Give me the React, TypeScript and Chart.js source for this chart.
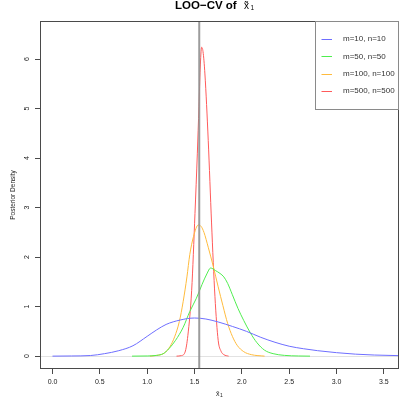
import React, { useEffect, useRef } from "react";
import { Chart, registerables } from "chart.js";

Chart.register(...registerables);

// ---- data ----
const xTicks = [0, 0.5, 1, 1.5, 2, 2.5, 3, 3.5];
const xTickLabels = ["0.0", "0.5", "1.0", "1.5", "2.0", "2.5", "3.0", "3.5"];
const yTicks = [0, 1, 2, 3, 4, 5, 6];
const yTickLabels = ["0", "1", "2", "3", "4", "5", "6"];
const seriesLabels = ["m=10, n=10", "m=50, n=50", "m=100, n=100", "m=500, n=500"];
const refValue = 1.55;

const m10X = [0.0, 0.2, 0.4, 0.55, 0.7, 0.85, 1.0, 1.1, 1.2, 1.35, 1.5, 1.62, 1.75, 1.9, 2.05, 2.2, 2.35, 2.5, 2.65, 2.8, 3.0, 3.2, 3.4, 3.66];
const m10Y = [0.0, 0.003, 0.012, 0.05, 0.11, 0.21, 0.4, 0.53, 0.64, 0.73, 0.77, 0.75, 0.69, 0.6, 0.5, 0.38, 0.28, 0.2, 0.15, 0.11, 0.07, 0.04, 0.022, 0.01];

const m50X = [0.84, 1.0, 1.1, 1.17, 1.23, 1.3, 1.38, 1.45, 1.52, 1.58, 1.63, 1.67, 1.72, 1.77, 1.81, 1.85, 1.9, 1.96, 2.02, 2.09, 2.16, 2.24, 2.33, 2.45, 2.6, 2.72];
const m50Y = [0.0, 0.003, 0.015, 0.05, 0.15, 0.32, 0.58, 0.9, 1.17, 1.45, 1.66, 1.78, 1.73, 1.67, 1.6, 1.47, 1.24, 0.96, 0.72, 0.47, 0.27, 0.12, 0.05, 0.015, 0.003, 0.0];

const m100X = [1.03, 1.12, 1.18, 1.24, 1.29, 1.34, 1.38, 1.42, 1.45, 1.49, 1.54, 1.57, 1.6, 1.645, 1.7, 1.75, 1.8, 1.85, 1.9, 1.95, 2.02, 2.1, 2.24];
const m100Y = [0.0, 0.02, 0.06, 0.19, 0.39, 0.7, 1.1, 1.6, 2.05, 2.42, 2.65, 2.62, 2.5, 2.2, 1.8, 1.4, 1.02, 0.66, 0.4, 0.22, 0.09, 0.03, 0.0];

const m500X = [1.31, 1.36, 1.4, 1.43, 1.47, 1.505, 1.53, 1.547, 1.56, 1.575, 1.59, 1.61, 1.645, 1.68, 1.716, 1.75, 1.78, 1.81, 1.86];
const m500Y = [0.0, 0.01, 0.08, 0.42, 1.33, 2.88, 4.1, 5.04, 5.8, 6.24, 6.15, 5.7, 4.36, 2.69, 1.2, 0.32, 0.1, 0.03, 0.0];

const seriesX = [m10X, m50X, m100X, m500X];
const seriesY = [m10Y, m50Y, m100Y, m500Y];

// ---- styles ----
const colors = ["#6e6eff", "#4fee4f", "#ffbb3d", "#ff5a5a"];
const FONT = "'Liberation Sans', Arial, Helvetica, sans-serif";

const decor = {
  id: "decor",
  beforeDatasetsDraw(chart: any) {
    const { ctx, chartArea, scales } = chart;
    const y0 = Math.round(scales.y.getPixelForValue(0)) + 0.5;
    ctx.save();
    ctx.strokeStyle = "#e2e2e2";
    ctx.lineWidth = 1;
    ctx.beginPath();
    ctx.moveTo(chartArea.left, y0);
    ctx.lineTo(chartArea.right, y0);
    ctx.stroke();
    ctx.restore();
  },
  afterDatasetsDraw(chart: any) {
    const { ctx, chartArea, scales } = chart;
    const { left, right, top, bottom } = chartArea;
    ctx.save();
    // reference line
    const xr = scales.x.getPixelForValue(refValue);
    ctx.strokeStyle = "rgba(145,145,145,0.9)";
    ctx.lineWidth = 2;
    ctx.beginPath();
    ctx.moveTo(xr, top);
    ctx.lineTo(xr, bottom);
    ctx.stroke();
    // box
    ctx.strokeStyle = "#4a4a4a";
    ctx.lineWidth = 1;
    ctx.strokeRect(left + 0.5, top + 0.5, right - left - 1, bottom - top - 1);

    // legend
    const lx = 315.5, ly = top + 0.5, lw = right - 0.5 - lx, lh = 88;
    ctx.fillStyle = "#ffffff";
    ctx.fillRect(lx, ly, lw, lh);
    ctx.strokeStyle = "#8a8a8a";
    ctx.strokeRect(lx, ly, lw, lh);
    ctx.font = `8px ${FONT}`;
    ctx.textAlign = "left";
    ctx.textBaseline = "middle";
    seriesLabels.forEach((lab, i) => {
      const yy = top + 18 + i * 17.3;
      ctx.strokeStyle = colors[i];
      ctx.lineWidth = 1;
      ctx.beginPath();
      ctx.moveTo(321.5, Math.round(yy) + 0.5);
      ctx.lineTo(332, Math.round(yy) + 0.5);
      ctx.stroke();
      ctx.fillStyle = "#333";
      ctx.fillText(lab, 343, yy);
    });

    // x tick labels
    ctx.fillStyle = "#222";
    ctx.font = `7px ${FONT}`;
    ctx.textAlign = "center";
    ctx.textBaseline = "middle";
    xTicks.forEach((v, i) => {
      ctx.fillText(xTickLabels[i], scales.x.getPixelForValue(v), 382);
    });
    // y tick labels (rotated)
    yTicks.forEach((v, i) => {
      const yy = scales.y.getPixelForValue(v);
      ctx.save();
      ctx.translate(27, yy);
      ctx.rotate(-Math.PI / 2);
      ctx.fillText(yTickLabels[i], 0, 0);
      ctx.restore();
    });
    // y axis title
    ctx.save();
    ctx.font = `6.5px ${FONT}`;
    ctx.translate(13.5, (top + bottom) / 2);
    ctx.rotate(-Math.PI / 2);
    ctx.fillText("Posterior Density", 0, 0);
    ctx.restore();

    // x axis title
    ctx.font = `7px ${FONT}`;
    ctx.textAlign = "left";
    ctx.textBaseline = "alphabetic";
    ctx.fillText("x\u0304", 216, 395.5);
    ctx.font = `5px ${FONT}`;
    ctx.fillText("1", 220, 397);

    // title
    ctx.fillStyle = "#000";
    ctx.font = `bold 11.5px ${FONT}`;
    ctx.textAlign = "left";
    ctx.fillText("LOO\u2212CV of", 175, 8.5);
    ctx.font = `10px ${FONT}`;
    ctx.fillText("x\u0303", 244, 8.5);
    ctx.font = `6.5px ${FONT}`;
    ctx.fillText("1", 250.5, 10);
    ctx.restore();
  },
};

export default function App() {
  const ref = useRef<HTMLCanvasElement | null>(null);
  useEffect(() => {
    document.body.style.margin = "0";
    const canvas = ref.current!;
    const datasets: any[] = seriesLabels.map((lab, i) => ({
      label: lab,
      data: seriesX[i].map((x, j) => ({ x, y: seriesY[i][j] })),
      borderColor: colors[i],
      borderWidth: 1,
      pointRadius: 0,
      cubicInterpolationMode: "monotone",
      fill: false,
    }));
    const chart = new Chart(canvas, {
      type: "line",
      data: { datasets },
      options: {
        animation: false,
        responsive: false,
        devicePixelRatio: 1,
        layout: { padding: { top: 21, left: 0, right: 0, bottom: 0 } },
        plugins: { legend: { display: false }, title: { display: false }, tooltip: { enabled: false } },
        scales: {
          x: {
            type: "linear",
            min: -0.132,
            max: 3.66,
            afterBuildTicks: (s: any) => {
              s.ticks = xTicks.map((v) => ({ value: v }));
            },
            afterFit: (s: any) => {
              s.height = 30;
            },
            ticks: { display: false },
            border: { display: false },
            grid: { drawOnChartArea: false, drawTicks: true, tickLength: 5, color: "#4a4a4a" },
          },
          y: {
            type: "linear",
            min: -0.26,
            max: 6.77,
            afterBuildTicks: (s: any) => {
              s.ticks = yTicks.map((v) => ({ value: v }));
            },
            afterFit: (s: any) => {
              s.width = 40;
            },
            ticks: { display: false },
            border: { display: false },
            grid: { drawOnChartArea: false, drawTicks: true, tickLength: 5, color: "#4a4a4a" },
          },
        },
      },
      plugins: [decor],
    });
    return () => chart.destroy();
  }, []);
  return <canvas ref={ref} width={399} height={399} style={{ display: "block" }} />;
}
